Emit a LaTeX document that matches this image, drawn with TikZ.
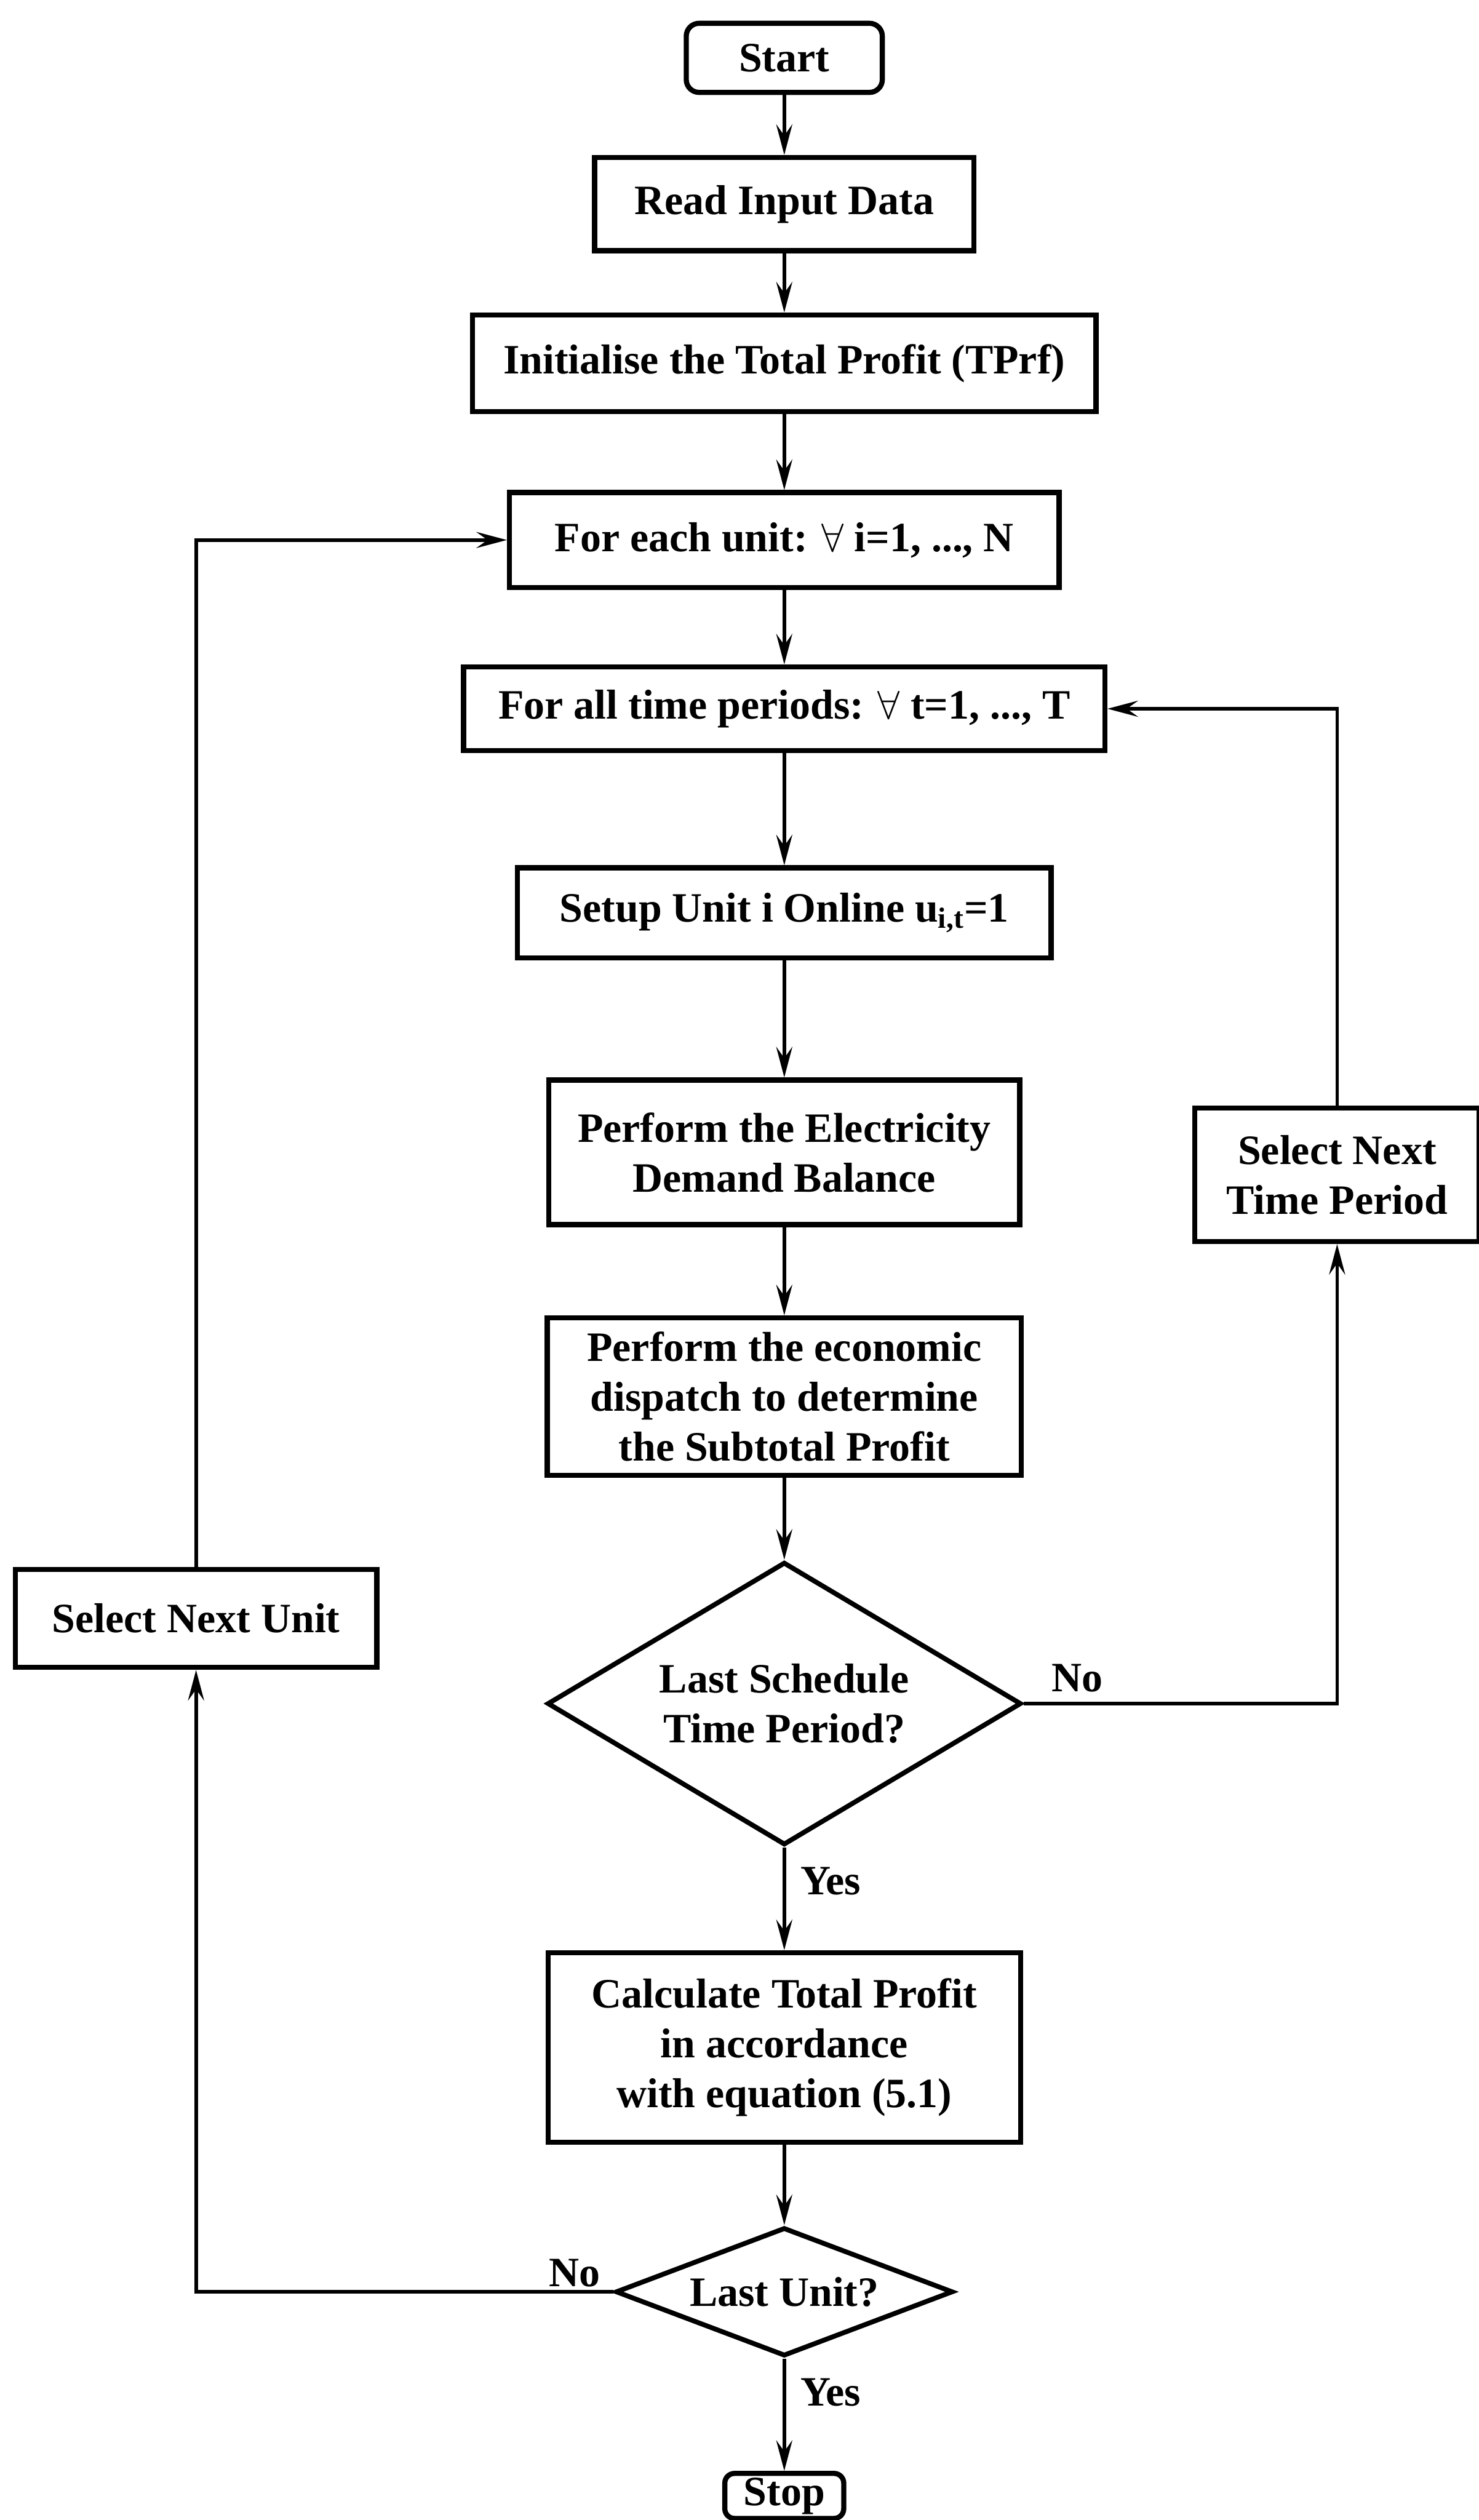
\documentclass[tikz,border=0pt]{standalone}
\usepackage{fontspec}
\setmainfont{Liberation Serif}
\usetikzlibrary{shapes.geometric,arrows.meta}
\begin{document}
\begin{tikzpicture}[x=1pt,y=-1pt,
  every node/.style={font=\fontsize{26}{31}\selectfont\bfseries, inner sep=0pt, align=center},
  box/.style={draw, line width=3.2pt, rectangle},
  term/.style={draw, line width=3.2pt, rounded corners=8pt},
  decision/.style={draw, line width=3pt, diamond},
  flow/.style={line width=2.2pt, -{Stealth[length=19pt,width=10pt,inset=7pt]}}]
\useasboundingbox (0,0) rectangle (920,1568);

% main column
\node[term, minimum width=122pt, minimum height=43pt] (start) at (488,36) {Start};
\node[box, minimum width=236pt, minimum height=58pt] (read) at (488,127) {Read Input Data};
\node[box, minimum width=388pt, minimum height=60pt] (init) at (488,226) {Initialise the Total Profit (TPrf)};
\node[box, minimum width=342pt, minimum height=59pt] (unit) at (488,336) {For each unit: $\forall$ i=1, ..., N};
\node[box, minimum width=399pt, minimum height=52pt] (time) at (488,441) {For all time periods: $\forall$ t=1, ..., T};
\node[box, minimum width=332pt, minimum height=56pt] (setup) at (488,568) {Setup Unit i Online u\textsubscript{i,t}=1};
\node[box, minimum width=293pt, minimum height=90pt] (bal) at (488,717) {Perform the Electricity\\Demand Balance};
\node[box, minimum width=295pt, minimum height=98pt] (disp) at (488,869) {Perform the economic\\dispatch to determine\\the Subtotal Profit};
\node[decision, aspect=1.68, minimum width=295pt, minimum height=176pt] (lastT) at (488,1060) {Last Schedule\\Time Period?};
\node[box, minimum width=294pt, minimum height=118pt] (calc) at (488,1274) {Calculate Total Profit\\in accordance\\with equation (5.1)};
\node[decision, aspect=2.6, minimum width=210pt, minimum height=80pt] (lastU) at (488,1426) {Last Unit?};
\node[term, minimum width=74pt, minimum height=28pt, rounded corners=6pt] (stop) at (488,1553) {Stop};

% side boxes
\node[box, minimum width=177pt, minimum height=83pt] (nextT) at (832,731) {Select Next\\Time Period};
\node[box, minimum width=225pt, minimum height=61pt] (nextU) at (122,1007) {Select Next Unit};

% connectors
\draw[flow] (start) -- (read);
\draw[flow] (read) -- (init);
\draw[flow] (init) -- (unit);
\draw[flow] (unit) -- (time);
\draw[flow] (time) -- (setup);
\draw[flow] (setup) -- (bal);
\draw[flow] (bal) -- (disp);
\draw[flow] (disp) -- (lastT);
\draw[flow] (lastT) -- node[anchor=west, xshift=9pt, pos=0.33] {Yes} (calc);
\draw[flow] (calc) -- (lastU);
\draw[flow] (lastU) -- node[anchor=west, xshift=9pt, pos=0.3] {Yes} (stop);

\draw[flow] (lastT.east) -| node[pos=0.085, above=6pt] {No} (nextT.south);
\draw[flow] (nextT.north) |- (time.east);
\draw[flow] (lastU.west) -| node[pos=0.046, above=2pt] {No} (nextU.south);
\draw[flow] (nextU.north) |- (unit.west);
\end{tikzpicture}
\end{document}
